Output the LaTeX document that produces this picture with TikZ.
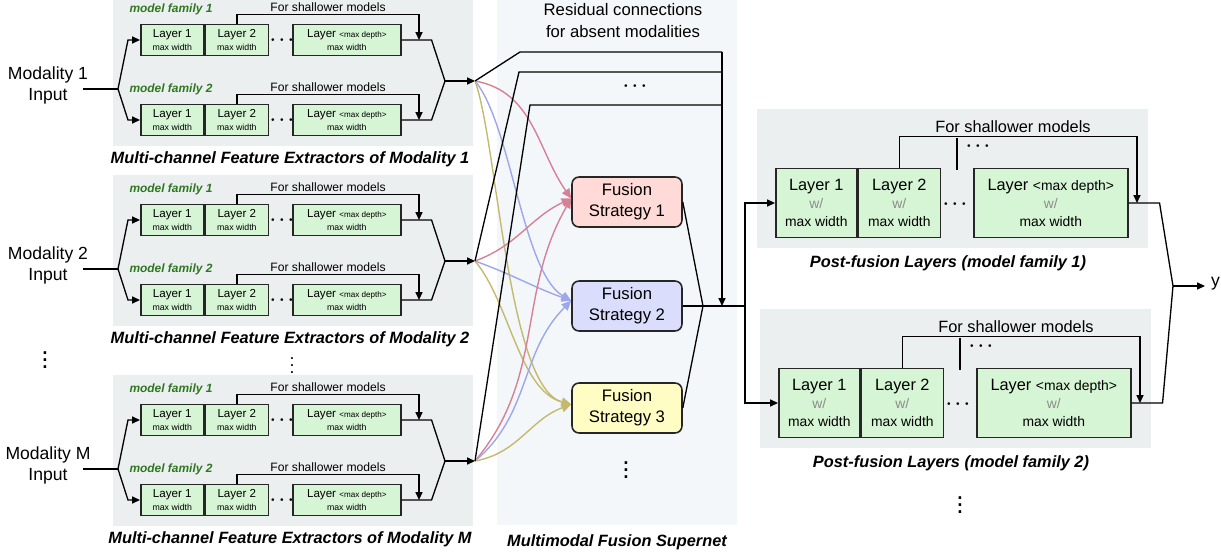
\documentclass[tikz,border=0pt]{standalone}
\usepackage{fontspec}
\setmainfont{Liberation Sans}
\usetikzlibrary{arrows.meta,positioning,calc}

\definecolor{bggray}{RGB}{236,239,239}
\definecolor{bgfuse}{RGB}{244,247,249}
\definecolor{lgreen}{RGB}{214,245,212}
\definecolor{famgreen}{RGB}{45,120,30}
\definecolor{fsred}{RGB}{255,218,214}
\definecolor{fsblue}{RGB}{218,222,252}
\definecolor{fsyellow}{RGB}{255,252,196}
\definecolor{cred}{RGB}{214,130,150}
\definecolor{cblue}{RGB}{158,166,236}
\definecolor{cyel}{RGB}{196,186,110}

\tikzset{
  lyr/.style={draw=black!85, line width=0.9pt, fill=lgreen, inner sep=0pt, align=center, anchor=west, minimum height=0.62cm, font=\fontsize{6.6}{7.4}\selectfont},
  plyr/.style={draw=black!85, line width=0.9pt, fill=lgreen, inner sep=0pt, align=center, anchor=west, minimum height=1.38cm, font=\fontsize{9.3}{10.2}\selectfont},
  fusebox/.style={draw=black!85, line width=0.9pt, rounded corners=4pt, minimum width=2.2cm, minimum height=1cm, inner sep=0pt, align=center, font=\fontsize{9.5}{12}\selectfont},
  fam/.style={text=famgreen, font=\fontsize{6.8}{8}\selectfont\bfseries\itshape},
  note/.style={font=\fontsize{6.9}{8}\selectfont},
  captxt/.style={font=\fontsize{9.3}{11}\selectfont\bfseries\itshape},
  dots/.style={inner sep=0pt, font=\fontsize{10}{12}\selectfont\boldmath},
  vdot/.style={inner sep=0pt, font=\fontsize{15}{18}\selectfont\boldmath},
  wire/.style={line width=0.75pt},
  arr/.style={wire, -{Triangle[length=4.5pt,width=4pt]}},
  redarc/.style={line width=0.8pt, draw=cred, -{Triangle[length=5.5pt,width=5pt]}},
  bluearc/.style={line width=0.8pt, draw=cblue, -{Triangle[length=5.5pt,width=5pt]}},
  yelarc/.style={line width=0.8pt, draw=cyel, -{Triangle[length=5.5pt,width=5pt]}},
}

\begin{document}
\begin{tikzpicture}[x=0.02cm, y=-0.02cm]
\useasboundingbox (0,0) rectangle (1221,554);

\fill[bgfuse] (497,0) rectangle (737,525);
\node[captxt] at (617,542) {Multimodal Fusion Supernet};
\node[align=center, font=\fontsize{9.5}{12.5}\selectfont] (restxt) at (623,21) {Residual connections\\for absent modalities};

% feature extractors
\foreach \dy/\mo/\blk in {0/1/a, 180/2/b, 380/M/c}{
  \begin{scope}[shift={(0,\dy)}]
    \fill[bggray] (113,-5) rectangle (473,146);
    \node[captxt] at (290,159) {Multi-channel Feature Extractors of Modality \mo};
    \node[align=center, font=\fontsize{10}{12}\selectfont] (\blk-in) at (48,85) {Modality \mo\\Input};
    \coordinate (\blk-split) at (118,89);
    \coordinate (\blk-merge) at (445,81);
    \coordinate (\blk-out) at (475,81);
    \draw[wire] (83,89) -- (\blk-split);
    \foreach \row/\cy in {1/40, 2/120}{
      \node[fam] at (171,\cy-31) {model family \row};
      \node[note] at (328,\cy-33) {For shallower models};
      \node[lyr, minimum width=1.26cm] (\blk\row-l1) at (140,\cy) {Layer 1\\{\fontsize{5}{6}\selectfont max width}};
      \node[lyr, minimum width=1.26cm, right=0pt of \blk\row-l1] (\blk\row-l2) {Layer 2\\{\fontsize{5}{6}\selectfont max width}};
      \node[dots] at (282,\cy) {$\cdots$};
      \node[lyr, minimum width=2.16cm] (\blk\row-ld) at (292,\cy) {Layer {\fontsize{4.6}{6}\selectfont <max depth>}\\{\fontsize{5}{6}\selectfont max width}};
      \draw[arr] (\blk-split) -- (128,\cy) -- (\blk\row-l1.west);
      \draw[arr] (\blk\row-l2.north) -- ++(0,-9.5) -| (419,\cy);
      \draw[wire] (\blk\row-ld.east) -- ++(30,0) -- (\blk-merge);
    }
    \draw[arr] (\blk-merge) -- (\blk-out);
  \end{scope}
}
\node[vdot] at (45,355) {$\vdots$};
\node[dots] at (292,360) {$\vdots$};

% fusion strategies
\node[fusebox, fill=fsred] (fs1) at (627,202) {Fusion\\Strategy 1};
\node[fusebox, fill=fsblue] (fs2) at (627,306) {Fusion\\Strategy 2};
\node[fusebox, fill=fsyellow] (fs3) at (627,408) {Fusion\\Strategy 3};
\node[vdot] at (626,465) {$\vdots$};

\draw[redarc] (a-out) to[out=-10,in=125] ([yshift=2pt]fs1.west);
\draw[bluearc] (a-out) to[out=-50,in=150,looseness=0.6] ([yshift=3pt]fs2.west);
\draw[yelarc] (a-out) to[out=-70,in=165,looseness=0.5] ([yshift=2pt]fs3.west);
\draw[redarc] (b-out) to[out=20,in=205] ([yshift=2pt]fs1.west);
\draw[bluearc] (b-out) to[out=-20,in=160] ([yshift=3pt]fs2.west);
\draw[yelarc] (b-out) to[out=-50,in=165,looseness=0.8] ([yshift=2pt]fs3.west);
\draw[redarc] (c-out) to[out=50,in=240] ([yshift=2pt]fs1.west);
\draw[bluearc] (c-out) to[out=40,in=225] ([yshift=3pt]fs2.west);
\draw[yelarc] (c-out) to[out=10,in=200] ([yshift=2pt]fs3.west);

\coordinate (rtop) at (722,52);
\draw[wire] (a-out) -- (520,52) -- (rtop);
\draw[wire] (b-out) -- (519,72) -- (722,72);
\draw[wire] (c-out) -- (530,105) -- (722,105);
\node[dots] at (635,86) {$\cdots$};
\draw[arr] (rtop) -- (rtop |- fs2.east);

% post-fusion layers
\coordinate (ym) at (1173,286);
\foreach \j/\dy/\dx in {1/0/0, 2/200/3}{
  \begin{scope}[shift={(\dx,\dy)}]
    \fill[bggray] (757,109) rectangle (1148,248);
    \node[captxt] at (948,263) {Post-fusion Layers (model family \j)};
    \node[font=\fontsize{9.3}{11}\selectfont] at (1013,127) {For shallower models};
    \node[plyr, minimum width=1.62cm] (p\j-l1) at (775,203) {Layer 1\\{\fontsize{7.9}{9}\selectfont\color{black!45}w/}\\{\fontsize{7.9}{9}\selectfont max width}};
    \node[plyr, minimum width=1.64cm, right=0pt of p\j-l1] (p\j-l2) {Layer 2\\{\fontsize{7.9}{9}\selectfont\color{black!45}w/}\\{\fontsize{7.9}{9}\selectfont max width}};
    \node[dots] at (955,204) {$\cdots$};
    \node[plyr, minimum width=3.08cm] (p\j-ld) at (973,203) {Layer {\fontsize{7.9}{9}\selectfont <max depth>}\\{\fontsize{7.9}{9}\selectfont\color{black!45}w/}\\{\fontsize{7.9}{9}\selectfont max width}};
    \draw[arr] (p\j-l2.north) -- ++(0,-31) -| (1137,203);
    \draw[wire] (957,138) -- (957,170);
    \node[dots] at (978,146) {$\cdots$};
    \draw[wire] (p\j-ld.east) -- ++(31,0) -- (ym);
  \end{scope}
}
\node[vdot] at (960,500) {$\vdots$};

% fusion output to post-fusion layers
\coordinate (fm) at (703,306);
\coordinate (fsplit) at (745,306);
\draw[wire] (fs1.east) -- (fm) -- (fs3.east);
\draw[wire] (fs2.east) -- (fsplit);
\draw[arr] (fsplit) |- (p1-l1.west);
\draw[arr] (fsplit) |- (p2-l1.west);

\node[anchor=west, font=\fontsize{10}{12}\selectfont] (yout) at (1205,284) {y};
\draw[arr] (ym) -- (ym -| yout.west);
\end{tikzpicture}
\end{document}
